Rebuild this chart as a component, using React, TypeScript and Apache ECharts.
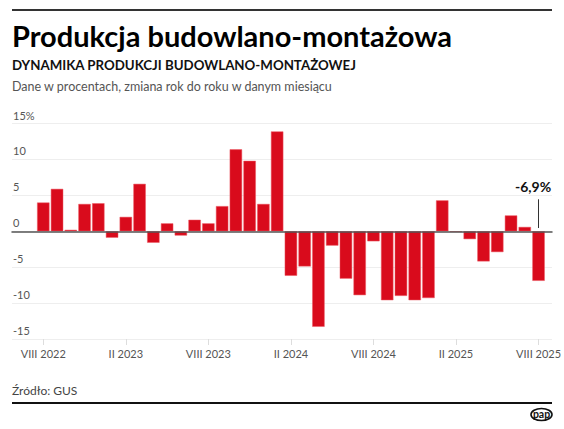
import React, { useEffect, useRef } from "react";
import * as echarts from "echarts";

const categories = [
  "VIII 2022", "IX 2022", "X 2022", "XI 2022", "XII 2022",
  "I 2023", "II 2023", "III 2023", "IV 2023", "V 2023", "VI 2023", "VII 2023",
  "VIII 2023", "IX 2023", "X 2023", "XI 2023", "XII 2023",
  "I 2024", "II 2024", "III 2024", "IV 2024", "V 2024", "VI 2024", "VII 2024",
  "VIII 2024", "IX 2024", "X 2024", "XI 2024", "XII 2024",
  "I 2025", "II 2025", "III 2025", "IV 2025", "V 2025", "VI 2025", "VII 2025",
  "VIII 2025",
];

const values = [
  4.0, 5.9, 0.2, 3.8, 3.9,
  -0.9, 2.0, 6.6, -1.6, 1.1, -0.6, 1.6,
  1.1, 3.5, 11.4, 9.8, 3.8,
  13.9, -6.2, -4.9, -13.3, -2.0, -6.6, -8.9,
  -1.4, -9.6, -9.0, -9.6, -9.3,
  4.3, -0.1, -1.1, -4.2, -2.9, 2.2, 0.6,
  -6.9,
];

const yTicks = { min: -15, max: 15, interval: 5 };

const TITLE = "Produkcja budowlano-montażowa";
const SUBTITLE = "DYNAMIKA PRODUKCJI BUDOWLANO-MONTAŻOWEJ";
const DESCRIPTION = "Dane w procentach, zmiana rok do roku w danym miesiącu";
const SOURCE = "Źródło: GUS";

const FONT = "Lato, 'Noto Sans', sans-serif";

export default function App() {
  const ref = useRef<HTMLDivElement>(null);

  useEffect(() => {
    document.body.style.margin = "0";
    if (!ref.current) return;
    const chart = echarts.init(ref.current, undefined, { renderer: "svg" });

    const lastIdx = values.length - 1;
    const lastLabel =
      values[lastIdx].toFixed(1).replace(".", ",") + "%";

    const option: any = {
      animation: false,
      backgroundColor: "#ffffff",
      textStyle: { fontFamily: FONT },
      grid: [
        { left: 12, right: 12, top: 123.5, bottom: 90 },
        { left: 36.4, right: 14.8, top: 123.5, bottom: 90 },
      ],
      xAxis: [
        {
          type: "value",
          gridIndex: 0,
          min: 0,
          max: 1,
          axisLine: { show: true, onZero: true, lineStyle: { color: "#555", width: 1.5 } },
          axisTick: { show: false },
          axisLabel: { show: false },
          splitLine: { show: false },
          z: 5,
        },
        {
          type: "category",
          gridIndex: 1,
          data: categories,
          axisLine: { show: false, onZero: false },
          axisTick: {
            show: true,
            alignWithLabel: true,
            interval: 5,
            length: 6,
            lineStyle: { color: "#dddddd" },
          },
          axisLabel: {
            interval: 5,
            color: "#555",
            fontSize: 11,
            fontFamily: FONT,
            margin: 9,
          },
          splitLine: { show: false },
        },
      ],
      yAxis: [
        {
          type: "value",
          gridIndex: 0,
          min: yTicks.min,
          max: yTicks.max,
          interval: yTicks.interval,
          axisLine: { show: false },
          axisTick: { show: false },
          splitLine: { show: true, lineStyle: { color: "#eeeeee", width: 1 } },
          axisLabel: {
            inside: true,
            margin: 1,
            verticalAlign: "bottom",
            padding: [0, 0, 3, 0],
            color: "#555",
            fontSize: 11,
            fontFamily: FONT,
            formatter: (v: number) => (v === yTicks.max ? v + "%" : String(v)),
          },
        },
        {
          type: "value",
          gridIndex: 1,
          min: yTicks.min,
          max: yTicks.max,
          interval: yTicks.interval,
          show: false,
          splitLine: { show: false },
        },
      ],
      series: [
        {
          type: "bar",
          xAxisIndex: 1,
          yAxisIndex: 1,
          data: values,
          barCategoryGap: "10%",
          itemStyle: { color: "#d90b1c", borderColor: "#ec5a64", borderWidth: 0.5 },
          z: 3,
          markLine: {
            silent: true,
            symbol: ["none", "none"],
            label: { show: false },
            lineStyle: { color: "#333", width: 1, type: "solid" },
            data: [
              [
                { coord: [categories[lastIdx], 0.45] },
                { coord: [categories[lastIdx], 4.45] },
              ],
            ],
          },
          markPoint: {
            silent: true,
            symbol: "circle",
            symbolSize: 0,
            data: [
              {
                coord: [categories[lastIdx], 6.2],
                label: {
                  show: true,
                  position: "inside",
                  offset: [-5.5, 0],
                  formatter: lastLabel,
                  color: "#111",
                  fontWeight: "bold",
                  fontSize: 14,
                  fontFamily: FONT,
                },
              },
            ],
          },
        },
      ],
      graphic: [
        {
          type: "line",
          shape: { x1: 12, y1: 10, x2: 552, y2: 10 },
          style: { stroke: "#333", lineWidth: 2 },
        },
        {
          type: "text",
          x: 12,
          y: 35,
          style: {
            text: TITLE,
            font: `bold 29px ${FONT}`,
            fill: "#000",
            verticalAlign: "middle",
          },
        },
        {
          type: "text",
          x: 12,
          y: 65,
          style: {
            text: SUBTITLE,
            font: `bold 13.3px ${FONT}`,
            fill: "#111",
            verticalAlign: "middle",
          },
        },
        {
          type: "text",
          x: 12,
          y: 86,
          style: {
            text: DESCRIPTION,
            font: `12.5px ${FONT}`,
            fill: "#555",
            verticalAlign: "middle",
          },
        },
        {
          type: "text",
          x: 12,
          y: 390,
          style: {
            text: SOURCE,
            font: `12px ${FONT}`,
            fill: "#444",
            verticalAlign: "middle",
          },
        },
        {
          type: "line",
          shape: { x1: 12, y1: 403, x2: 552, y2: 403 },
          style: { stroke: "#111", lineWidth: 2 },
        },
        {
          type: "group",
          children: [
            {
              type: "ellipse",
              shape: { cx: 541.5, cy: 414.5, rx: 10.5, ry: 6 },
              style: { fill: "#fff", stroke: "#111", lineWidth: 1.6 },
            },
            {
              type: "text",
              x: 541.5,
              y: 414,
              style: {
                text: "pap",
                font: `bold 10.5px ${FONT}`,
                fill: "#111",
                align: "center",
                verticalAlign: "middle",
              },
            },
          ],
        },
      ],
    };

    chart.setOption(option);
    return () => chart.dispose();
  }, []);

  return <div ref={ref} style={{ width: 564, height: 429 }} />;
}
